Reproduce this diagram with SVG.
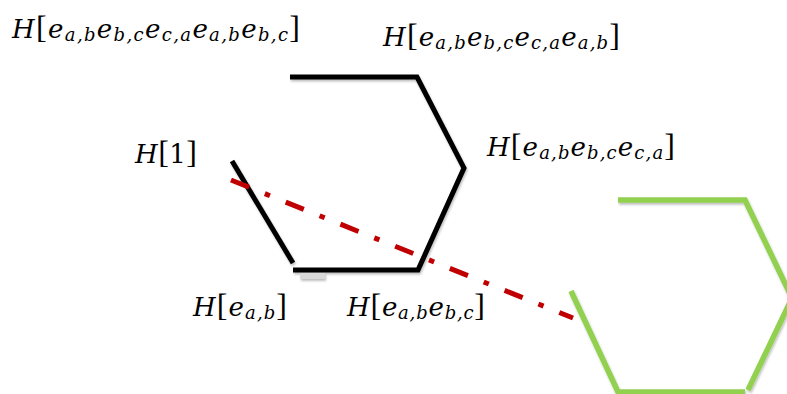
<svg xmlns="http://www.w3.org/2000/svg" width="787" height="394" viewBox="0 0 787 394">
<defs>
<filter id="sh" x="-10%" y="-10%" width="120%" height="120%">
<feDropShadow dx="1" dy="2" stdDeviation="1.2" flood-color="#000" flood-opacity="0.25"/>
</filter>
</defs>
<style>
.m{font-family:"DejaVu Serif","Liberation Serif",serif;font-size:26px;fill:#000}
.i{font-style:italic}
.b{font-family:"Liberation Serif",serif;font-size:32px}
.s{font-style:italic;font-size:18px}
.blk{fill:none;stroke:#000;stroke-width:5;stroke-linejoin:miter}
.grn{fill:none;stroke:#92D050;stroke-width:5.5}
.red{fill:none;stroke:#C00000;stroke-width:5;stroke-dasharray:19.5 17 5.5 17}
</style>
<rect width="787" height="394" fill="#fff"/>
<g id="black-path" filter="url(#sh)">
<rect x="300" y="273" width="25" height="6" fill="#d9d9d9"/>
<path class="blk" d="M290,77 L417,77 L464,168 L418,270 L293,270"/>
<path class="blk" d="M232,161 L293,263"/>
</g>
<g id="green-hexagon" filter="url(#sh)">
<path class="grn" d="M618,200 L745,200 L792,298 L748,390"/>
<path class="grn" d="M571,291 L618,392 L745,392"/>
</g>
<g id="connectors">
<path class="red" d="M231,180 L573,318"/>
</g>
<g id="label-eab-ebc-eca-eab-ebc">
<text class="m" x="12" y="38" textLength="288" lengthAdjust="spacing"><tspan class="i">H</tspan><tspan class="b">[</tspan><tspan class="i">e</tspan><tspan class="s" dy="3">a,b</tspan><tspan class="i" dy="-3">e</tspan><tspan class="s" dy="3">b,c</tspan><tspan class="i" dy="-3">e</tspan><tspan class="s" dy="3">c,a</tspan><tspan class="i" dy="-3">e</tspan><tspan class="s" dy="3">a,b</tspan><tspan class="i" dy="-3">e</tspan><tspan class="s" dy="3">b,c</tspan><tspan class="b" dy="-3">]</tspan></text>
</g>
<g id="label-eab-ebc-eca-eab">
<text class="m" x="383" y="46" textLength="237" lengthAdjust="spacing"><tspan class="i">H</tspan><tspan class="b">[</tspan><tspan class="i">e</tspan><tspan class="s" dy="3">a,b</tspan><tspan class="i" dy="-3">e</tspan><tspan class="s" dy="3">b,c</tspan><tspan class="i" dy="-3">e</tspan><tspan class="s" dy="3">c,a</tspan><tspan class="i" dy="-3">e</tspan><tspan class="s" dy="3">a,b</tspan><tspan class="b" dy="-3">]</tspan></text>
</g>
<g id="label-1">
<text class="m" x="135" y="163" textLength="62" lengthAdjust="spacing"><tspan class="i">H</tspan><tspan class="b">[</tspan>1<tspan class="b">]</tspan></text>
</g>
<g id="label-eab-ebc-eca">
<text class="m" x="487" y="156" textLength="188" lengthAdjust="spacing"><tspan class="i">H</tspan><tspan class="b">[</tspan><tspan class="i">e</tspan><tspan class="s" dy="3">a,b</tspan><tspan class="i" dy="-3">e</tspan><tspan class="s" dy="3">b,c</tspan><tspan class="i" dy="-3">e</tspan><tspan class="s" dy="3">c,a</tspan><tspan class="b" dy="-3">]</tspan></text>
</g>
<g id="label-eab">
<text class="m" x="193" y="316" textLength="94" lengthAdjust="spacing"><tspan class="i">H</tspan><tspan class="b">[</tspan><tspan class="i">e</tspan><tspan class="s" dy="3">a,b</tspan><tspan class="b" dy="-3">]</tspan></text>
</g>
<g id="label-eab-ebc">
<text class="m" x="347" y="316" textLength="138" lengthAdjust="spacing"><tspan class="i">H</tspan><tspan class="b">[</tspan><tspan class="i">e</tspan><tspan class="s" dy="3">a,b</tspan><tspan class="i" dy="-3">e</tspan><tspan class="s" dy="3">b,c</tspan><tspan class="b" dy="-3">]</tspan></text>
</g>
</svg>
